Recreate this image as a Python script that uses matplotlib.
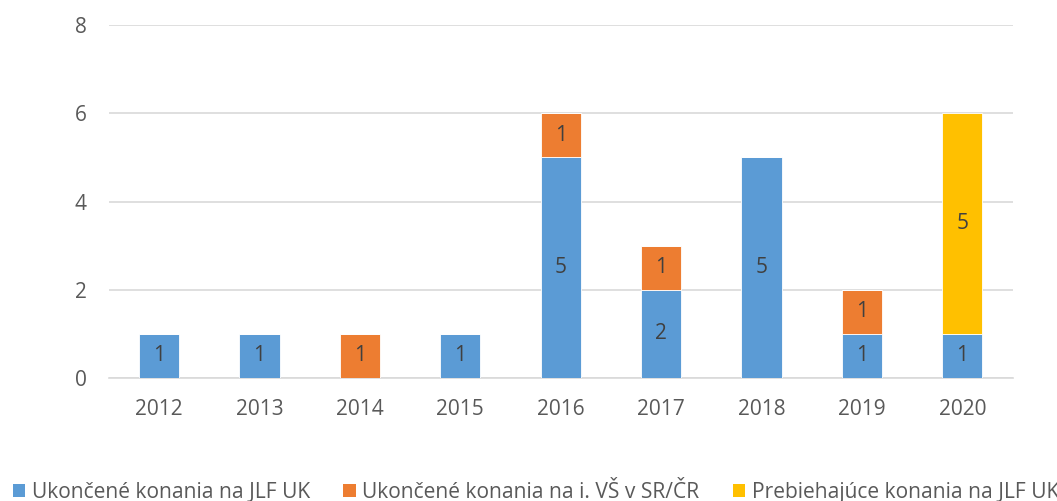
import numpy as np
import matplotlib.pyplot as plt
from matplotlib.patches import Patch

years = ['2012', '2013', '2014', '2015', '2016', '2017', '2018', '2019', '2020']
finished_jlf = [1, 1, 0, 1, 5, 2, 5, 1, 1]
finished_other = [0, 0, 1, 0, 1, 1, 0, 1, 0]
ongoing_jlf = [0, 0, 0, 0, 0, 0, 0, 0, 5]

series_names = ['Ukončené konania na JLF UK',
                'Ukončené konania na i. VŠ v SR/ČR',
                'Prebiehajúce konania na JLF UK']
colors = ['#5B9BD5', '#ED7D31', '#FFC000']

plt.rcParams['font.family'] = ['Open Sans', 'DejaVu Sans']

fig = plt.figure(figsize=(10.57, 5.01), dpi=100)
ax = fig.add_axes([0.103, 0.2455, 0.855, 0.7045])

x = np.arange(len(years))
bottom = np.zeros(len(years))
for vals, col in zip([finished_jlf, finished_other, ongoing_jlf], colors):
    vals = np.array(vals, dtype=float)
    ax.bar(x, vals, width=0.4, bottom=bottom, color=col,
           edgecolor='white', linewidth=0.6, zorder=3)
    for xi, v, b in zip(x, vals, bottom):
        if v > 0:
            ax.text(xi, b + v / 2, f'{int(v)}', ha='center', va='center',
                    fontsize=15, color='#404040', zorder=4)
    bottom += vals

ax.set_xlim(-0.5, len(years) - 0.5)
ax.set_ylim(0, 8)
ax.set_yticks([0, 2, 4, 6, 8])
ax.set_xticks(x)
ax.set_xticklabels(years)
ax.yaxis.grid(True, color='#D9D9D9', linewidth=1.2, zorder=0)
for s in ['top', 'right', 'left']:
    ax.spines[s].set_visible(False)
ax.spines['bottom'].set_color('#D9D9D9')
ax.spines['bottom'].set_linewidth(1.2)
ax.tick_params(axis='both', length=0, labelsize=15, colors='#595959')
ax.tick_params(axis='y', pad=16)
ax.tick_params(axis='x', pad=15)

handles = [Patch(facecolor=c, edgecolor='none') for c in colors]
fig.legend(handles, series_names, ncol=3, loc='center',
           bbox_to_anchor=(0.507, 0.017), frameon=False, fontsize=15.1,
           labelcolor='#595959', handlelength=0.6, handleheight=0.6,
           handletextpad=0.3, columnspacing=1.6)

plt.savefig('out.png', dpi=100)
